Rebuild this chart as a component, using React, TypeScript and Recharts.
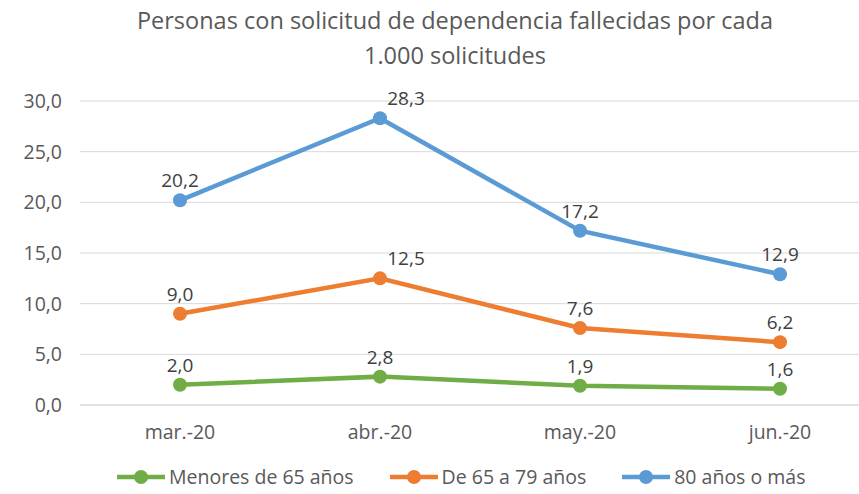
import { CartesianGrid, LabelList, Line, LineChart, XAxis, YAxis } from "recharts";

const categories = ["mar.-20", "abr.-20", "may.-20", "jun.-20"];
const menores65 = [2.0, 2.8, 1.9, 1.6];
const de65a79 = [9.0, 12.5, 7.6, 6.2];
const mas80 = [20.2, 28.3, 17.2, 12.9];
const yTicks = [0, 5, 10, 15, 20, 25, 30];

const titleLines = [
  "Personas con solicitud de dependencia fallecidas por cada",
  "1.000 solicitudes",
];

const series = [
  { key: "menores", name: "Menores de 65 años", color: "#70ad47", values: menores65, shifted: false },
  { key: "de65", name: "De 65 a 79 años", color: "#ed7d31", values: de65a79, shifted: true },
  { key: "mas80", name: "80 años o más", color: "#5b9bd5", values: mas80, shifted: true },
];

const data = categories.map((cat, i) => ({
  cat,
  menores: menores65[i],
  de65: de65a79[i],
  mas80: mas80[i],
}));

const FONT = "'Open Sans', sans-serif";
const fmt = (v: number) => v.toFixed(1).replace(".", ",");

function makeLabel(shifted: boolean) {
  return (props: any) => {
    const { x, y, value, index } = props;
    const dx = shifted && index === 1 ? 26 : 0;
    return (
      <text
        x={Number(x) + dx}
        y={Number(y) - 13}
        textAnchor="middle"
        fill="#404040"
        fontSize={19}
        fontFamily={FONT}
      >
        {fmt(Number(value))}
      </text>
    );
  };
}

export default function App() {
  return (
    <div
      style={{
        position: "absolute",
        left: 0,
        top: 0,
        width: 859,
        height: 494,
        overflow: "hidden",
        background: "#fff",
        fontFamily: FONT,
      }}
    >
      <div
        style={{
          position: "absolute",
          left: 0,
          top: 3,
          width: 910,
          textAlign: "center",
          color: "#595959",
          fontSize: 23.5,
          lineHeight: "35px",
        }}
      >
        {titleLines.map((t) => (
          <div key={t}>{t}</div>
        ))}
      </div>
      <LineChart
        width={910}
        height={494}
        data={data}
        margin={{ top: 101, right: 30, left: 0, bottom: 49 }}
      >
        <CartesianGrid vertical={false} stroke="#d9d9d9" strokeWidth={1} />
        <XAxis
          dataKey="cat"
          height={40}
          padding={{ left: 100, right: 100 }}
          axisLine={{ stroke: "#d9d9d9" }}
          tickLine={false}
          tickMargin={14}
          tick={{ fill: "#595959", fontSize: 19.5, fontFamily: FONT }}
        />
        <YAxis
          width={80}
          domain={[0, 30]}
          ticks={yTicks}
          axisLine={false}
          tickLine={false}
          tickMargin={12}
          tickFormatter={(v) => fmt(Number(v))}
          tick={{ fill: "#595959", fontSize: 19.5, fontFamily: FONT }}
        />
        {series.map((s) => (
          <Line
            key={s.key}
            dataKey={s.key}
            name={s.name}
            stroke={s.color}
            strokeWidth={4.5}
            dot={{ r: 7, fill: s.color, stroke: s.color, strokeWidth: 0 }}
            activeDot={false}
            isAnimationActive={false}
          >
            <LabelList dataKey={s.key} content={makeLabel(s.shifted)} />
          </Line>
        ))}
      </LineChart>
      <div
        style={{
          position: "absolute",
          left: 117,
          top: 463,
          display: "flex",
          alignItems: "center",
          gap: 36,
          color: "#595959",
          fontSize: 19.5,
        }}
      >
        {series.map((s) => (
          <div key={s.key} style={{ display: "flex", alignItems: "center" }}>
            <svg width={48} height={16} style={{ marginRight: 4 }}>
              <line x1={0} y1={8} x2={48} y2={8} stroke={s.color} strokeWidth={4.5} />
              <circle cx={24} cy={8} r={7} fill={s.color} />
            </svg>
            <span>{s.name}</span>
          </div>
        ))}
      </div>
    </div>
  );
}
